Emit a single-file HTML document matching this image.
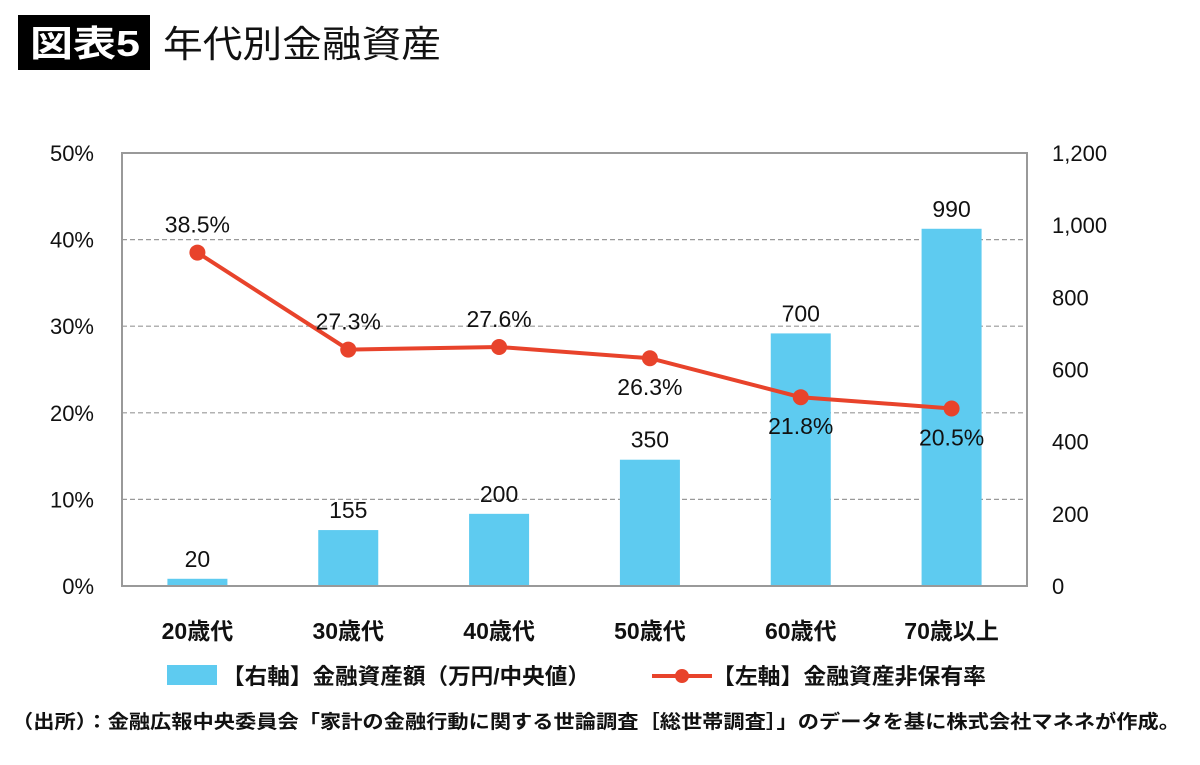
<!DOCTYPE html>
<html><head><meta charset="utf-8"><style>
body{margin:0;background:#fff;width:1200px;height:760px;overflow:hidden;font-family:"Liberation Sans","Noto Sans CJK JP",sans-serif;}
</style></head><body>
<svg id="c" width="1200" height="760" xmlns="http://www.w3.org/2000/svg" font-family="'Liberation Sans','Noto Sans CJK JP',sans-serif">
<rect x="18" y="15" width="132" height="55" fill="#000"/>
<text x="30" y="56" fill="#fff" font-size="36" font-weight="bold" textLength="110" lengthAdjust="spacingAndGlyphs">図表5</text>
<text x="163" y="57" fill="#111" font-size="37" textLength="278" lengthAdjust="spacingAndGlyphs">年代別金融資産</text>
<g id="grid"></g><g id="bars"></g><g id="line"></g><g id="axes"></g>
<rect x="122" y="153" width="905" height="433" fill="none" stroke="#999" stroke-width="2"/>
<g>
<rect x="167" y="665" width="50" height="20" fill="#5ecbf0"/>
<text x="222" y="684" font-size="22" fill="#111" font-weight="bold" textLength="368" lengthAdjust="spacingAndGlyphs">【右軸】金融資産額（万円/中央値）</text>
<line x1="652" y1="676" x2="712" y2="676" stroke="#e8432b" stroke-width="4"/>
<circle cx="682" cy="676" r="7" fill="#e8432b"/>
<text x="712" y="684" font-size="22" fill="#111" font-weight="bold" textLength="274" lengthAdjust="spacingAndGlyphs">【左軸】金融資産非保有率</text>
</g>
<text x="12" y="728" font-size="19" fill="#111" font-weight="bold" textLength="1168" lengthAdjust="spacingAndGlyphs">（出所）：金融広報中央委員会「家計の金融行動に関する世論調査［総世帯調査］」のデータを基に株式会社マネネが作成。</text>
</svg>
<script>
const categories=["20歳代","30歳代","40歳代","50歳代","60歳代","70歳以上"];
const assets=[20,155,200,350,700,990];
const rates=[38.5,27.3,27.6,26.3,21.8,20.5];
const leftTicks=[0,10,20,30,40,50];
const rightTicks=[0,200,400,600,800,1000,1200];
const NS="http://www.w3.org/2000/svg";
const X0=122,X1=1027,Y0=586,Y1=153;
const xc=i=>X0+(X1-X0)/categories.length*(i+0.5);
const yL=v=>Y0-(Y0-Y1)*v/50;
const yR=v=>Y0-(Y0-Y1)*v/1200;
function mk(tag,attrs,parent,txt){const e=document.createElementNS(NS,tag);for(const k in attrs)e.setAttribute(k,attrs[k]);if(txt!==undefined)e.textContent=txt;document.getElementById(parent).appendChild(e);return e;}
leftTicks.forEach(t=>{
  if(t>0&&t<50){const g=mk('line',{x1:X0,x2:X1,y1:yL(t),y2:yL(t),stroke:'#999','stroke-width':1.2,'stroke-dasharray':'5,3'},'grid');
  
  }
  const l=mk('text',{x:94,y:yL(t)+8,'font-size':22,'text-anchor':'end',fill:'#111'},'axes',t+'%');
  
  
});
rightTicks.forEach(t=>{
  const l=mk('text',{x:1052,y:yR(t)+8,'font-size':22,fill:'#111'},'axes',t.toLocaleString('en-US'));
  
  
});
categories.forEach((c,i)=>{
  const l=mk('text',{x:xc(i),y:639,'font-size':23,'font-weight':'bold','text-anchor':'middle',fill:'#111'},'axes',c);
  
  
  const b=mk('rect',{x:xc(i)-30,y:yR(assets[i]),width:60,height:Y0-yR(assets[i]),fill:'#5ecbf0'},'bars');
  
  
  const v=mk('text',{x:xc(i),y:yR(assets[i])-12,'font-size':23,'text-anchor':'middle',fill:'#111'},'bars',assets[i]);
  
  
});
const pl=mk('polyline',{points:rates.map((r,i)=>xc(i)+','+yL(r)).join(' '),fill:'none',stroke:'#e8432b','stroke-width':4},'line');


rates.forEach((r,i)=>{
  const p=mk('circle',{cx:xc(i),cy:yL(r),r:8,fill:'#e8432b'},'line');
  
  
  const above=i<3;
  const t=mk('text',{x:xc(i),y:above?yL(r)-20:yL(r)+37,'font-size':23,'text-anchor':'middle',fill:'#111'},'line',r.toFixed(1)+'%');
  
  
});
</script>
</body></html>
